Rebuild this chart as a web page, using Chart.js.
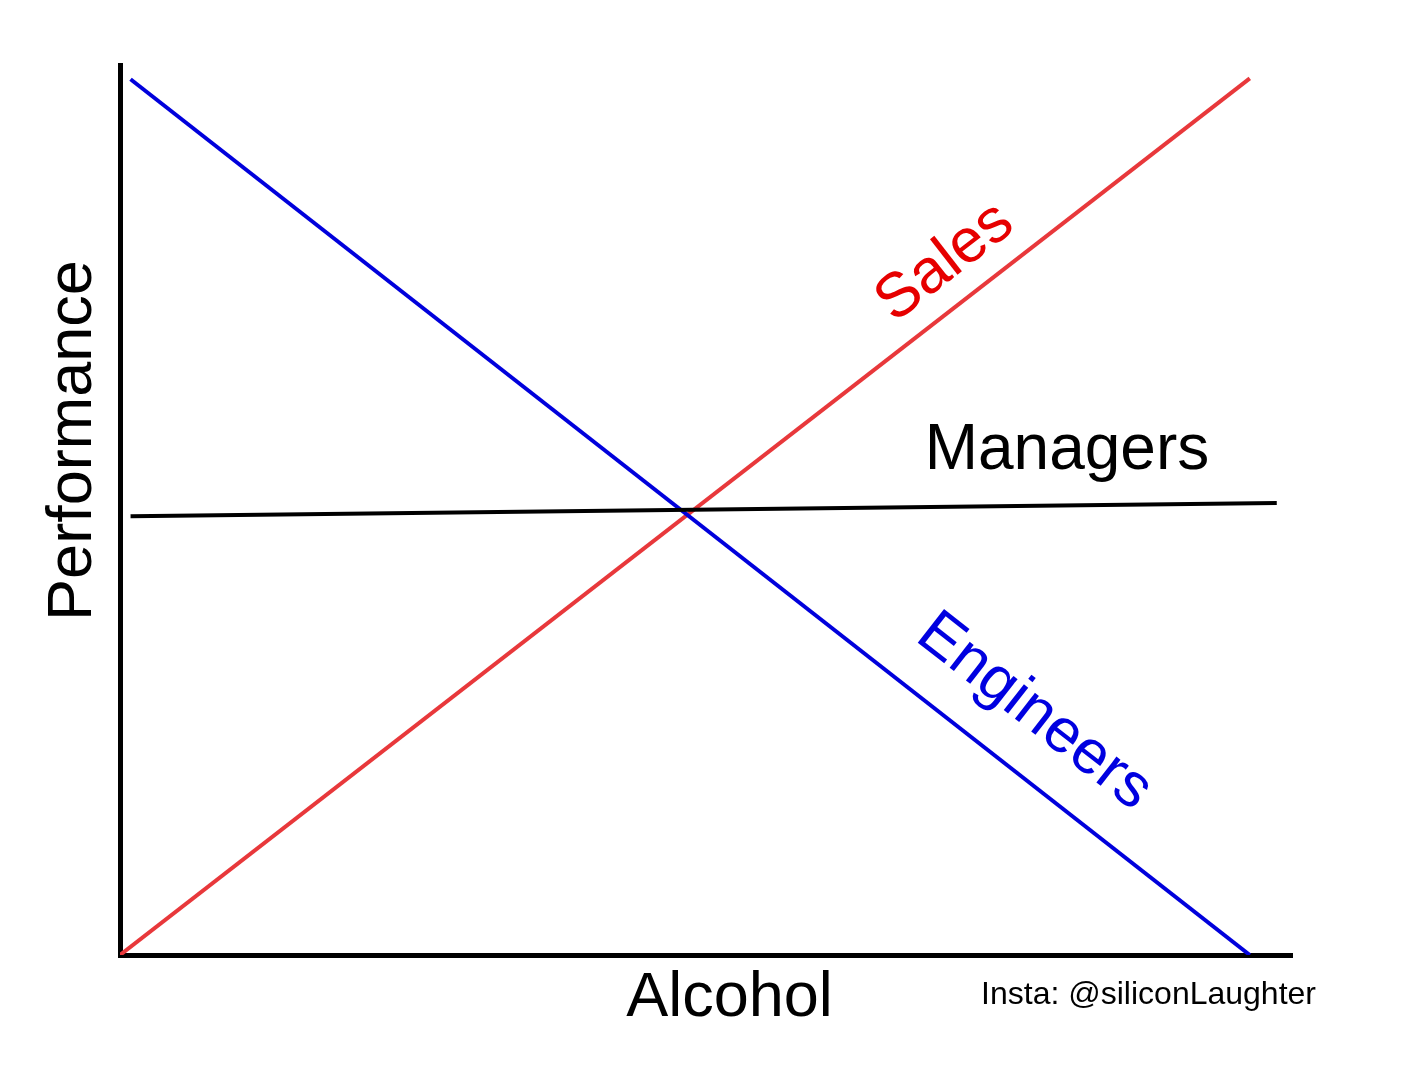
<!DOCTYPE html>
<html>
<head>
<meta charset="utf-8">
<title>Performance vs Alcohol</title>
<script src="https://cdn.jsdelivr.net/npm/chart.js@4/dist/chart.umd.min.js"></script>
<style>
  html, body { margin: 0; padding: 0; background: #fff; }
  #wrap { width: 1422px; height: 1067px; }
</style>
</head>
<body>
<div id="wrap"><canvas id="chart" width="1422" height="1067"></canvas></div>
<script>
// alcohol (0-100) along x, performance (0-100) along y
const engineersX = [0.9, 96.4];
const engineersY = [98.4, 0];
const salesX = [0, 96.4];
const salesY = [0, 98.5];
const managersX = [0.9, 98.7];
const managersY = [49.3, 50.8];

const FONT = '"Liberation Sans", Arial, sans-serif';

const toPoints = (xs, ys) => xs.map((x, i) => ({ x: x, y: ys[i] }));

// angle of a series on screen, so the label follows its line
function angleOf(xs, ys, sx, sy) {
  const dx = sx.getPixelForValue(xs[1]) - sx.getPixelForValue(xs[0]);
  const dy = sy.getPixelForValue(ys[1]) - sy.getPixelForValue(ys[0]);
  return Math.atan2(dy, dx);
}

function drawText(ctx, text, px, py, angle, color, size, align, baseline) {
  ctx.save();
  ctx.translate(px, py);
  ctx.rotate(angle);
  ctx.font = size + 'px ' + FONT;
  ctx.fillStyle = color;
  ctx.textAlign = align || 'center';
  ctx.textBaseline = baseline || 'middle';
  ctx.fillText(text, 0, 0);
  ctx.restore();
}

const labelPlugin = {
  id: 'lineLabels',
  afterDraw(chart) {
    const { ctx, chartArea, scales } = chart;
    const sx = scales.x, sy = scales.y;

    drawText(ctx, 'Sales', sx.getPixelForValue(70.4), sy.getPixelForValue(77.8),
      angleOf(salesX, salesY, sx, sy), '#e60000', 62);
    drawText(ctx, 'Engineers', sx.getPixelForValue(78.0), sy.getPixelForValue(27.3),
      angleOf(engineersX, engineersY, sx, sy), '#0000e0', 62);
    drawText(ctx, 'Managers', sx.getPixelForValue(80.8), sy.getPixelForValue(54.6),
      0, '#000', 64, 'center', 'alphabetic');

    // axis titles
    drawText(ctx, 'Alcohol', sx.getPixelForValue(52.0), chartArea.bottom + 61,
      0, '#000', 63, 'center', 'alphabetic');
    drawText(ctx, 'Performance', chartArea.left - 29, sy.getPixelForValue(57.8),
      -Math.PI / 2, '#000', 63, 'center', 'alphabetic');

    drawText(ctx, 'Insta: @siliconLaughter', chartArea.right + 24, chartArea.bottom + 49,
      0, '#000', 32, 'right', 'alphabetic');
  }
};

const lineStyle = {
  borderWidth: 4,
  pointRadius: 0,
  pointHoverRadius: 0,
  tension: 0,
  fill: false,
  borderCapStyle: 'butt'
};

new Chart(document.getElementById('chart'), {
  type: 'line',
  data: {
    datasets: [
      Object.assign({ label: 'Managers', data: toPoints(managersX, managersY), borderColor: '#000000' }, lineStyle),
      Object.assign({ label: 'Engineers', data: toPoints(engineersX, engineersY), borderColor: '#0000dc' }, lineStyle),
      Object.assign({ label: 'Sales', data: toPoints(salesX, salesY), borderColor: '#e8383b' }, lineStyle)
    ]
  },
  options: {
    responsive: false,
    animation: false,
    layout: { padding: { left: 120, right: 130, top: 65, bottom: 112 } },
    plugins: {
      legend: { display: false },
      tooltip: { enabled: false }
    },
    scales: {
      x: {
        type: 'linear',
        min: 0,
        max: 100,
        ticks: { display: false },
        grid: { display: false, drawTicks: false },
        border: { display: true, color: '#000', width: 5 }
      },
      y: {
        type: 'linear',
        min: 0,
        max: 100,
        ticks: { display: false },
        grid: { display: false, drawTicks: false },
        border: { display: true, color: '#000', width: 5 }
      }
    }
  },
  plugins: [labelPlugin]
});
</script>
</body>
</html>
